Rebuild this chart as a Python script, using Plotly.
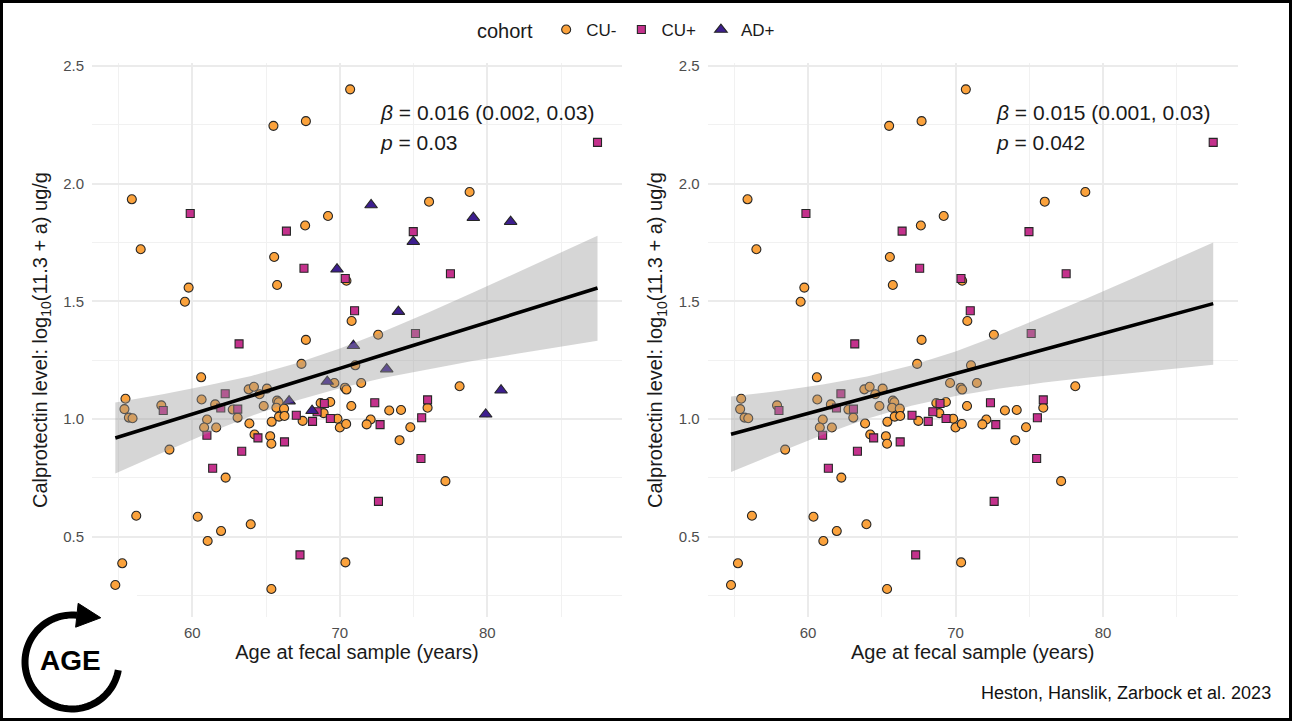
import numpy as np
import plotly.graph_objects as go

# ---------------- data ----------------
cu_neg_age = [70.7, 65.5, 67.7, 55.9, 56.5, 69.2, 67.65, 65.55, 70.45, 59.75,
              59.5, 65.75, 70.8, 67.7, 78.8, 76.05, 72.6, 67.4, 71.05, 69.63,
              71.45, 60.6, 70.35, 70.45, 55.47, 55.4, 55.7, 55.95, 57.9, 58.45,
              60.63, 61.0, 60.8, 61.62, 61.55, 62.74, 63.07, 63.82, 64.18, 64.56,
              65.06, 63.87, 64.22, 62.26, 64.84, 65.28, 65.36, 65.38, 65.75, 65.85,
              65.7, 66.22, 65.88, 66.25, 67.48, 68.7, 69.35, 68.9, 69.84, 70.0,
              70.43, 70.78, 56.2, 60.37, 63.96, 61.95, 61.04, 70.38, 55.25, 54.78,
              65.36, 78.12, 73.35, 74.15, 75.95, 72.09, 71.82, 74.78, 74.05, 77.16]
cu_neg_val = [2.400, 2.245, 2.265, 1.933, 1.721, 1.862, 1.822, 1.688, 1.587, 1.558,
              1.498, 1.569, 1.416, 1.336, 1.964, 1.923, 1.358, 1.234, 1.228, 1.153,
              1.153, 1.177, 1.133, 1.125, 1.086, 1.042, 1.006, 1.003, 1.058, 0.870,
              1.083, 0.998, 0.964, 0.964, 1.062, 1.040, 1.006, 1.126, 1.137, 1.105,
              1.129, 0.981, 0.934, 0.751, 1.055, 0.927, 0.895, 0.988, 1.078, 1.071,
              1.048, 1.044, 1.010, 1.013, 0.992, 1.068, 1.072, 1.025, 1.001, 0.964,
              0.979, 1.055, 0.589, 0.585, 0.553, 0.524, 0.482, 0.391, 0.387, 0.295,
              0.278, 1.139, 1.036, 1.038, 1.048, 0.998, 0.977, 0.965, 0.910, 0.736]

cu_pos_age = [59.86, 66.38, 67.57, 70.37, 71.0, 87.47, 74.98, 77.5, 75.13, 63.17,
              58.03, 60.99, 61.93, 62.23, 63.08, 64.45, 63.35, 61.38, 66.25, 67.05,
              68.15, 68.46, 68.95, 69.36, 67.3, 72.37, 75.95, 75.55, 72.73, 75.5, 72.62]
cu_pos_val = [1.873, 1.798, 1.640, 1.597, 1.460, 2.175, 1.796, 1.617, 1.363, 1.319,
              1.036, 0.931, 1.047, 1.107, 1.042, 0.920, 0.863, 0.791, 0.903, 1.016,
              0.990, 1.031, 1.066, 1.002, 0.423, 1.069, 1.081, 1.005, 0.976, 0.832, 0.650]

ad_pos_age = [69.81, 72.12, 79.05, 81.58, 74.98, 73.97, 70.92, 69.15, 66.56, 68.12,
              73.18, 80.93, 79.89]
ad_pos_val = [1.636, 1.909, 1.855, 1.838, 1.753, 1.456, 1.311, 1.159, 1.076, 1.035,
              1.212, 1.122, 1.020]

# fitted line and 95% band (left: all cohorts, right: without AD+)
fit_age = [54.78, 58, 61, 64, 67, 70, 73, 76, 79, 82, 85, 87.47]
fit_all = [0.919, 0.981, 1.040, 1.098, 1.157, 1.215, 1.274, 1.332, 1.391, 1.449, 1.508, 1.556]
hi_all = [1.070, 1.105, 1.142, 1.183, 1.236, 1.299, 1.373, 1.452, 1.536, 1.621, 1.708, 1.778]
lo_all = [0.769, 0.858, 0.938, 1.013, 1.078, 1.131, 1.175, 1.212, 1.246, 1.277, 1.308, 1.332]
fit_cu = [0.935, 0.989, 1.040, 1.091, 1.142, 1.193, 1.244, 1.295, 1.346, 1.397, 1.448, 1.490]
hi_cu = [1.095, 1.119, 1.146, 1.180, 1.227, 1.287, 1.358, 1.435, 1.515, 1.597, 1.680, 1.750]
lo_cu = [0.775, 0.858, 0.933, 1.001, 1.056, 1.098, 1.129, 1.155, 1.176, 1.196, 1.215, 1.230]

stat_labels = [["0.016 (0.002, 0.03)", "0.03"], ["0.015 (0.001, 0.03)", "0.042"]]
cohorts = ["CU-", "CU+", "AD+"]

# ---------------- figure ----------------
W, H = 1293, 722
def fx(px): return px / W
def fy(py): return 1 - py / H

FONT = "Liberation Sans, Arial, Helvetica, sans-serif"
C_NEG, C_POS, C_AD = "#FBA23C", "#C4318C", "#3D1E8F"
EDGE = "#262626"

fig = go.Figure()

panels = [("x", "y", True, fit_all, hi_all, lo_all),
          ("x2", "y2", False, fit_cu, hi_cu, lo_cu)]
for xa, ya, with_ad, fit, hi, lo in panels:
    fig.add_trace(go.Scatter(x=cu_neg_age, y=cu_neg_val, mode="markers", name=cohorts[0],
                             xaxis=xa, yaxis=ya, legendgroup="neg", showlegend=with_ad,
                             marker=dict(symbol="circle", size=9, color=C_NEG,
                                         line=dict(color=EDGE, width=1.1))))
    fig.add_trace(go.Scatter(x=cu_pos_age, y=cu_pos_val, mode="markers", name=cohorts[1],
                             xaxis=xa, yaxis=ya, legendgroup="pos", showlegend=with_ad,
                             marker=dict(symbol="square", size=8, color=C_POS,
                                         line=dict(color=EDGE, width=1.1))))
    if with_ad:
        fig.add_trace(go.Scatter(x=ad_pos_age, y=ad_pos_val, mode="markers", name=cohorts[2],
                                 xaxis=xa, yaxis=ya, legendgroup="ad", showlegend=True,
                                 marker=dict(symbol="triangle-up", size=11, color=C_AD,
                                             line=dict(color=EDGE, width=1.1))))
    fig.add_trace(go.Scatter(x=fit_age + fit_age[::-1], y=hi + lo[::-1], mode="lines",
                             fill="toself", fillcolor="rgba(153,153,153,0.4)",
                             line=dict(width=0),
                             xaxis=xa, yaxis=ya, showlegend=False, hoverinfo="skip"))
    fig.add_trace(go.Scatter(x=fit_age, y=fit, mode="lines", line=dict(color="black", width=3.6),
                             xaxis=xa, yaxis=ya, showlegend=False))

xcommon = dict(range=[53.20, 89.13], tick0=0, dtick=10, showgrid=True, gridcolor="#EBEBEB",
               gridwidth=1.6, zeroline=False, showline=False, ticks="",
               tickfont=dict(size=15, color="#4D4D4D", family=FONT), ticklabelstandoff=5,
               minor=dict(dtick=5, tick0=0, showgrid=True, gridcolor="#F1F1F1", gridwidth=1),
               title=dict(text="Age at fecal sample (years)", font=dict(size=20, color="#1a1a1a", family=FONT),
                          standoff=4),
               automargin=False, fixedrange=True)
ycommon = dict(range=[0.159, 2.512], tick0=0, dtick=0.5, tickformat=".1f", showgrid=True,
               gridcolor="#EBEBEB", gridwidth=1.6, zeroline=False, showline=False, ticks="",
               tickfont=dict(size=15, color="#4D4D4D", family=FONT), ticklabelstandoff=7,
               minor=dict(dtick=0.25, tick0=0, showgrid=True, gridcolor="#F1F1F1", gridwidth=1),
               title=dict(text="Calprotectin level: log<sub>10</sub>(11.3 + a) ug/g",
                          font=dict(size=20, color="#1a1a1a", family=FONT), standoff=10),
               automargin=False, fixedrange=True)

fig.update_layout(
    width=W, height=H, template="none",
    margin=dict(l=0, r=0, t=0, b=0, pad=0),
    paper_bgcolor="white", plot_bgcolor="white",
    font=dict(family=FONT, color="#1a1a1a"),
    xaxis=dict(domain=[fx(92), fx(622)], anchor="y", **xcommon),
    yaxis=dict(domain=[fy(617), fy(63)], anchor="x", **ycommon),
    xaxis2=dict(domain=[fx(707.7), fx(1237.7)], anchor="y2", **xcommon),
    yaxis2=dict(domain=[fy(617), fy(63)], anchor="x2", **ycommon),
    legend=dict(orientation="h", x=fx(475), xanchor="left", y=fy(12), yanchor="top",
                font=dict(size=17, color="#1a1a1a", family=FONT),
                title=dict(text="cohort ", font=dict(size=20, color="#1a1a1a", family=FONT)),
                bgcolor="rgba(0,0,0,0)", itemwidth=30),
    showlegend=True,
)

# statistics annotations
for (xr, yr), labs in zip([("x", "y"), ("x2", "y2")], stat_labels):
    fig.add_annotation(x=72.6, y=2.302, xref=xr, yref=yr, xanchor="left", yanchor="middle",
                       text="<i>β</i> = " + labs[0], showarrow=False,
                       font=dict(size=21, color="#1a1a1a", family=FONT))
    fig.add_annotation(x=72.6, y=2.175, xref=xr, yref=yr, xanchor="left", yanchor="middle",
                       text="<i>p</i> = " + labs[1], showarrow=False,
                       font=dict(size=21, color="#1a1a1a", family=FONT))

# footer credit
fig.add_annotation(x=fx(1273), y=fy(693), xref="paper", yref="paper", xanchor="right",
                   yanchor="middle", text="Heston, Hanslik, Zarbock et al. 2023", showarrow=False,
                   font=dict(size=18, color="#111", family=FONT))

# ---------------- AGE logo (decoration) ----------------
shapes = []
shapes.append(dict(type="rect", xref="paper", yref="paper", x0=fx(4), x1=fx(137),
                   y0=fy(716), y1=fy(590), fillcolor="white", line=dict(width=0), layer="above"))
cx, cy, r = 72, 662, 47
th = np.radians(np.linspace(84, 350, 80))
arc = "M " + " L ".join(f"{fx(cx + r*np.cos(t)):.5f},{fy(cy - r*np.sin(t)):.5f}" for t in th)
shapes.append(dict(type="path", xref="paper", yref="paper", path=arc,
                   line=dict(color="black", width=7), layer="above"))
t0 = np.radians(84)
bx, by = cx + r*np.cos(t0), cy - r*np.sin(t0)
ux, uy = np.sin(t0), np.cos(t0)          # clockwise tangent (screen coords)
nx, ny = np.cos(t0), -np.sin(t0)         # outward normal (screen coords)
p1 = (bx + 12*nx, by + 12*ny)
p2 = (bx - 12*nx, by - 12*ny)
p3 = (bx + 24*ux, by + 24*uy)
head = "M {:.5f},{:.5f} L {:.5f},{:.5f} L {:.5f},{:.5f} Z".format(
    fx(p1[0]), fy(p1[1]), fx(p3[0]), fy(p3[1]), fx(p2[0]), fy(p2[1]))
shapes.append(dict(type="path", xref="paper", yref="paper", path=head,
                   fillcolor="black", line=dict(color="black", width=1), layer="above"))
# outer black frame
shapes.append(dict(type="rect", xref="paper", yref="paper", x0=fx(1.5), x1=fx(1290.5),
                   y0=fy(719.5), y1=fy(1.5), line=dict(color="black", width=3),
                   fillcolor="rgba(0,0,0,0)", layer="above"))
fig.update_layout(shapes=shapes)
fig.add_annotation(x=fx(70), y=fy(660), xref="paper", yref="paper", text="<b>AGE</b>",
                   showarrow=False, xanchor="center", yanchor="middle",
                   font=dict(size=28, color="black", family=FONT))

fig.write_html("out.html")
